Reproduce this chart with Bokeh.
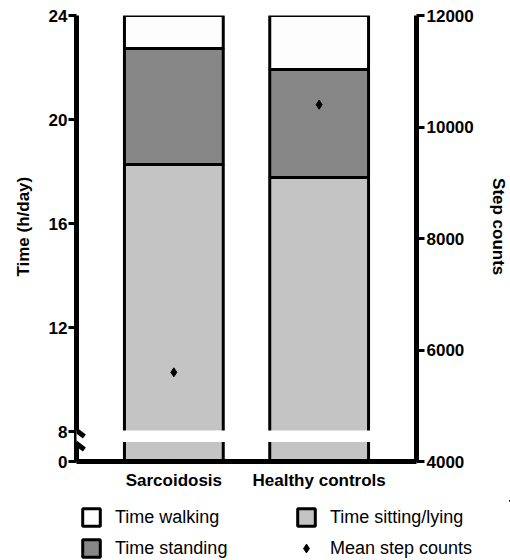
from bokeh.plotting import figure
from bokeh.layouts import column
from bokeh.models import (Range1d, LinearAxis, FixedTicker, ColumnDataSource, Legend,
                          LegendItem, PolyAnnotation, Arrow)
from bokeh.embed import file_html
from bokeh.resources import INLINE

# ---------------- data ----------------
groups = ["Sarcoidosis", "Healthy controls"]
time_sitting = [18.27, 17.77]     # h/day
time_standing = [4.46, 4.15]      # h/day
time_walking = [1.27, 2.08]       # h/day
mean_steps = [5600, 10400]        # steps/day
hour_ticks = [0, 8, 12, 16, 20, 24]
step_ticks = [4000, 6000, 8000, 10000, 12000]

# ---------------- broken axis mapping ----------------
BREAK = 8.0            # axis is broken between 0 and 8 h
LOW_SPAN = 30 / 26     # axis units used to show 0-8 h


def to_axis(h):
    return h if h >= BREAK else BREAK - (BREAK - h) * LOW_SPAN / BREAK


AXIS_ZERO = to_axis(0)
FONT = "Liberation Sans"
PAD = "\u00a0" * 5     # nudges the axis titles slightly upwards, as in the original

xs = [i + 1 for i in range(len(groups))]
sit_top = list(time_sitting)
stand_top = [a + b for a, b in zip(time_sitting, time_standing)]
walk_top = [a + b + c for a, b, c in zip(time_sitting, time_standing, time_walking)]

src = ColumnDataSource(dict(
    x=xs,
    sit_bottom=[to_axis(0)] * len(xs), sit_top=[to_axis(v) for v in sit_top],
    stand_bottom=[to_axis(v) for v in sit_top], stand_top=[to_axis(v) for v in stand_top],
    walk_bottom=[to_axis(v) for v in stand_top], walk_top=[to_axis(v) for v in walk_top],
    steps=mean_steps,
))

X0, X1 = 0.33, 2.67
BAR_W = 0.68
COLORS = {"walk": "#fdfdfd", "stand": "#878787", "sit": "#c4c4c4"}

p = figure(width=510, height=500, x_range=Range1d(X0, X1), y_range=Range1d(AXIS_ZERO, 24),
           output_backend="svg", toolbar_location=None,
           min_border_left=76, min_border_right=88, min_border_top=15, min_border_bottom=39)
p.extra_y_ranges = {"steps": Range1d(4000, 12000)}
p.outline_line_color = None
p.grid.visible = False
p.background_fill_color = "white"


def draw_series(fig, **extra):
    kw = dict(x="x", width=BAR_W, source=src, line_color="black", line_width=3)
    sit = fig.vbar(bottom="sit_bottom", top="sit_top", fill_color=COLORS["sit"], **kw)
    stand = fig.vbar(bottom="stand_bottom", top="stand_top", fill_color=COLORS["stand"], **kw)
    walk = fig.vbar(bottom="walk_bottom", top="walk_top", fill_color=COLORS["walk"], **kw)
    steps = fig.scatter(x="x", y="steps", source=src, marker="diamond", size=9,
                        fill_color="black", line_color="black", line_width=1, **extra)
    return sit, stand, walk, steps


draw_series(p, y_range_name="steps")


def style_axis(ax):
    ax.axis_line_width = 5
    ax.axis_line_color = "black"
    ax.major_tick_line_width = 3
    ax.major_tick_in = 0
    ax.major_tick_out = 8
    ax.minor_tick_line_color = None
    ax.major_label_text_font = FONT
    ax.major_label_text_font_style = "bold"
    ax.major_label_text_font_size = "17px"
    ax.major_label_text_color = "black"
    ax.axis_label_text_font = FONT
    ax.axis_label_text_font_style = "bold"
    ax.axis_label_text_font_size = "17px"
    ax.axis_label_text_color = "black"


# left axis (hours, broken)
ly = p.yaxis[0]
style_axis(ly)
ly.ticker = FixedTicker(ticks=[to_axis(t) for t in hour_ticks])
ly.major_label_overrides = {to_axis(t): str(t) for t in hour_ticks}
ly.major_label_standoff = 1
ly.axis_label = PAD + "Time (h/day)"
ly.axis_label_standoff = 13

# right axis (steps)
ry = LinearAxis(y_range_name="steps", ticker=FixedTicker(ticks=step_ticks))
style_axis(ry)
ry.major_label_standoff = 2
ry.axis_label = "Step counts" + PAD
ry.axis_label_standoff = 12
p.add_layout(ry, "right")

# x axis
bx = p.xaxis[0]
style_axis(bx)
bx.ticker = FixedTicker(ticks=xs)
bx.major_label_overrides = {x: g for x, g in zip(xs, groups)}
bx.major_tick_out = 0
bx.major_label_standoff = 9

# axis break: white gap across bars and left axis, plus two slashes
px_x = (X1 - X0) / 346.0
gap_lo, gap_hi = 7.6, 8.04
gap = PolyAnnotation(xs=[X0 - 9 * px_x, 2 + BAR_W / 2 + 3 * px_x, 2 + BAR_W / 2 + 3 * px_x, X0 - 9 * px_x],
                     ys=[gap_lo, gap_lo, gap_hi, gap_hi],
                     fill_color="white", fill_alpha=1, line_color=None, level="overlay")
p.add_layout(gap)
for y_top in (8.27, 7.77):
    p.add_layout(Arrow(start=None, end=None,
                       x_start=X0 - 8 * px_x, y_start=y_top,
                       x_end=X0 + 8 * px_x, y_end=y_top - 0.46,
                       line_width=5, line_color="black", level="overlay"))

# ---------------- legend panel (same series, drawn outside its view) ----------------
pl = figure(width=510, height=60, x_range=Range1d(-20, -19), y_range=Range1d(-20, -19),
            x_axis_type=None, y_axis_type=None, output_backend="svg", toolbar_location=None,
            min_border=0)
pl.frame_align = False
pl.outline_line_color = None
pl.grid.visible = False
l_sit, l_stand, l_walk, l_steps = draw_series(pl)

legend = Legend(items=[
    LegendItem(label="Time walking", renderers=[l_walk]),
    LegendItem(label="Time standing", renderers=[l_stand]),
    LegendItem(label="Time sitting/lying", renderers=[l_sit]),
    LegendItem(label="Mean step counts", renderers=[l_steps]),
], location=(80, 1), nrows=2, orientation="vertical",
    glyph_width=22, glyph_height=22, label_standoff=13, label_width=171, label_height=22,
    spacing=9, padding=0, margin=0, border_line_color=None, background_fill_alpha=0,
    label_text_font=FONT, label_text_font_size="18px", label_text_color="black")
pl.add_layout(legend, "center")

open("out.html", "w").write(file_html(column(p, pl, spacing=0), INLINE))
